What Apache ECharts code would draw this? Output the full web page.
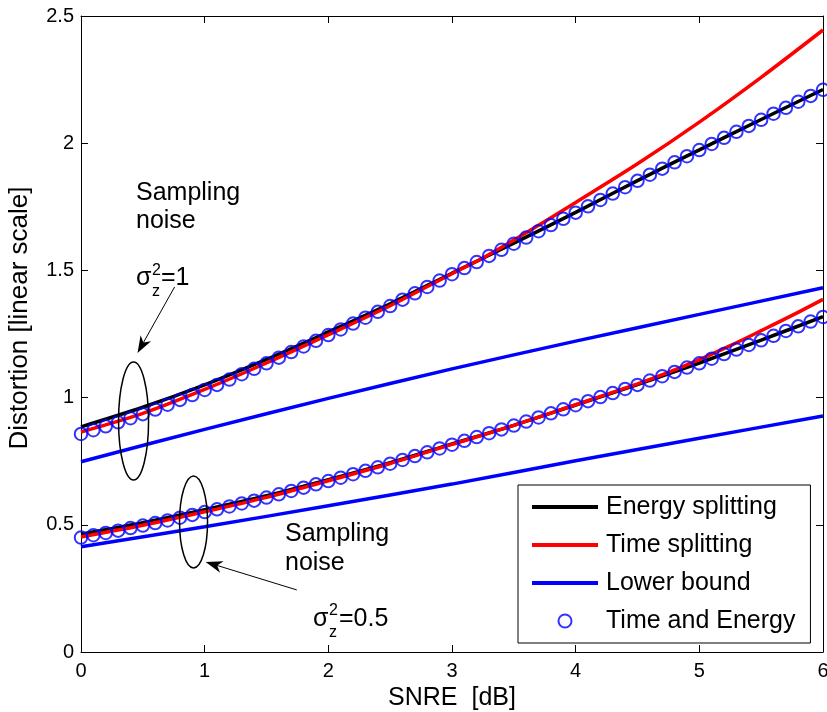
<!DOCTYPE html>
<html><head><meta charset="utf-8">
<script src="https://cdn.jsdelivr.net/npm/echarts@6/dist/echarts.min.js"></script>
<style>html,body{margin:0;padding:0;background:#fff}#c{width:827px;height:712px}</style>
</head><body><div id="c"></div>
<script>
// ---- data ----
const circleX = [0,0.1,0.2,0.3,0.4,0.5,0.6,0.7,0.8,0.9,1,1.1,1.2,1.3,1.4,1.5,1.6,1.7,1.8,1.9,2,2.1,2.2,2.3,2.4,2.5,2.6,2.7,2.8,2.9,3,3.1,3.2,3.3,3.4,3.5,3.6,3.7,3.8,3.9,4,4.1,4.2,4.3,4.4,4.5,4.6,4.7,4.8,4.9,5,5.1,5.2,5.3,5.4,5.5,5.6,5.7,5.8,5.9,6];
const circleUpper = [0.857,0.872,0.887,0.903,0.919,0.935,0.953,0.972,0.991,1.010,1.030,1.050,1.071,1.092,1.113,1.135,1.157,1.179,1.201,1.223,1.246,1.268,1.291,1.314,1.337,1.360,1.385,1.410,1.435,1.460,1.485,1.509,1.533,1.557,1.581,1.605,1.629,1.654,1.678,1.703,1.727,1.752,1.777,1.802,1.827,1.852,1.876,1.900,1.925,1.949,1.973,1.997,2.021,2.045,2.068,2.092,2.116,2.139,2.163,2.186,2.210];
const circleLower = [0.450,0.459,0.468,0.477,0.487,0.497,0.507,0.517,0.528,0.539,0.550,0.561,0.572,0.584,0.595,0.607,0.620,0.633,0.646,0.659,0.672,0.685,0.699,0.712,0.726,0.740,0.755,0.770,0.785,0.800,0.815,0.830,0.845,0.860,0.875,0.890,0.906,0.922,0.938,0.954,0.970,0.986,1.002,1.018,1.034,1.050,1.067,1.084,1.101,1.118,1.135,1.153,1.171,1.189,1.207,1.225,1.243,1.262,1.280,1.299,1.317];

const energyX = [0,0.5,1,1.5,2,2.5,3,3.5,4,4.5,5,5.5,6];
const energyUpper = [0.885,0.962,1.050,1.150,1.258,1.369,1.489,1.607,1.728,1.853,1.974,2.093,2.211];
const energyLower = [0.463,0.508,0.559,0.614,0.677,0.744,0.818,0.891,0.971,1.051,1.136,1.226,1.318];

const timeUpperX = [0,0.5,1,1.5,2,2.5,3,3.25,3.5,3.75,4,4.5,5,5.5,6];
const timeUpper = [0.865,0.938,1.032,1.136,1.247,1.361,1.487,1.549,1.619,1.692,1.767,1.919,2.083,2.259,2.445];
const timeLowerX = [0,0.5,1,1.5,2,2.5,3,3.5,4,4.5,4.75,5,5.25,5.5,5.75,6];
const timeLower = [0.452,0.498,0.551,0.608,0.673,0.741,0.816,0.891,0.972,1.054,1.099,1.149,1.204,1.263,1.323,1.386];

const boundX = [0,1,2,3,4,5,6];
const boundUpper = [0.748,0.875,0.997,1.113,1.222,1.327,1.432];
const boundLower = [0.414,0.492,0.575,0.660,0.752,0.840,0.928];

const legendNames = ['Energy splitting','Time splitting','Lower bound','Time and Energy'];
const xAxisTitle = 'SNRE  [dB]';
const yAxisTitle = 'Distortion [linear scale]';

// ---- annotation anchors (data coordinates) ----
const ellipses = [{c:[0.425,0.908], rx:15, ry:59},{c:[0.91,0.511], rx:14, ry:46}];
const arrows = [{from:[0.757,1.435], to:[0.457,1.175]},{from:[1.745,0.244], to:[1.008,0.354]}];

function pairs(xs, ys){ return xs.map((x,i)=>[x, ys[i]]); }

const FONT = '"Liberation Sans", Arial, Helvetica, sans-serif';
const chart = echarts.init(document.getElementById('c'), null, {renderer:'canvas'});

const lineSeries = (name, color, xs, ys) => ({
  name, type:'line', data: pairs(xs, ys), symbol:'none', smooth:0.3,
  lineStyle:{color, width:3.5}, itemStyle:{color}, animation:false, z:2
});
const circleSeries = (ys) => ({
  name: legendNames[3], type:'scatter', data: pairs(circleX, ys), symbol:'circle', symbolSize:12.5,
  itemStyle:{color:'rgba(0,0,0,0)', borderColor:'#0000ff', borderWidth:2}, animation:false, z:3
});

const axisCommon = {
  axisLine:{show:true, onZero:false, lineStyle:{color:'#000', width:1}},
  axisTick:{show:true, inside:true, length:7, lineStyle:{color:'#000', width:1}},
  splitLine:{show:false}
};

const option = {
  backgroundColor:'#fff',
  animation:false,
  grid:{left:81, right:4, top:16, bottom:60, containLabel:false, outerBoundsMode:'none'},
  xAxis:[
    Object.assign({type:'value', min:0, max:6, interval:1, position:'bottom',
      name:xAxisTitle, nameLocation:'middle', nameGap:34,
      nameTextStyle:{fontFamily:FONT, fontSize:25, color:'#000', verticalAlign:'top'},
      axisLabel:{fontFamily:FONT, fontSize:20, color:'#000', margin:9}}, axisCommon),
    Object.assign({type:'value', min:0, max:6, interval:1, position:'top',
      axisLabel:{show:false}}, axisCommon)
  ],
  yAxis:[
    Object.assign({type:'value', min:0, max:2.5, interval:0.5, position:'left',
      name:yAxisTitle, nameLocation:'middle', nameGap:48, nameRotate:90,
      nameTextStyle:{fontFamily:FONT, fontSize:26, color:'#000', padding:[0,0,0,32]},
      axisLabel:{fontFamily:FONT, fontSize:20, color:'#000', margin:7}}, axisCommon),
    Object.assign({type:'value', min:0, max:2.5, interval:0.5, position:'right',
      axisLabel:{show:false}}, axisCommon)
  ],
  legend:{
    orient:'vertical', left:518, top:485,
    padding:[7,15,7,14], itemGap:8, itemWidth:66, itemHeight:13,
    backgroundColor:'#fff', borderColor:'#000', borderWidth:1, borderRadius:0,
    selectedMode:false,
    textStyle:{fontFamily:FONT, fontSize:25, color:'#000', lineHeight:30, padding:[0,0,0,3]},
    data:[
      {name:legendNames[0], icon:'path://M0,0L66,0L66,4L0,4Z', itemStyle:{color:'#000'}},
      {name:legendNames[1], icon:'path://M0,0L66,0L66,4L0,4Z', itemStyle:{color:'#ff0000'}},
      {name:legendNames[2], icon:'path://M0,0L66,0L66,4L0,4Z', itemStyle:{color:'#0000ff'}},
      {name:legendNames[3], icon:'path://M48,1A5,5 0 1 1 47.99,1Z', itemStyle:{color:'rgba(0,0,0,0)', borderColor:'#0000ff', borderWidth:2}}
    ],
    symbolKeepAspect:true
  },
  series:[
    lineSeries(legendNames[0], '#000000', energyX, energyUpper),
    lineSeries(legendNames[0], '#000000', energyX, energyLower),
    lineSeries(legendNames[1], '#ff0000', timeUpperX, timeUpper),
    lineSeries(legendNames[1], '#ff0000', timeLowerX, timeLower),
    lineSeries(legendNames[2], '#0000ff', boundX, boundUpper),
    lineSeries(legendNames[2], '#0000ff', boundX, boundLower),
    circleSeries(circleUpper),
    circleSeries(circleLower)
  ]
};
chart.setOption(option);

// ---- annotations positioned from data coordinates ----
function P(pt){ return chart.convertToPixel({gridIndex:0}, pt); }
const g = [];
ellipses.forEach(e => {
  const c = P(e.c);
  g.push({type:'ellipse', shape:{cx:c[0], cy:c[1], rx:e.rx, ry:e.ry},
    style:{fill:'none', stroke:'#000', lineWidth:1.5}, z:10});
});
arrows.forEach(a => {
  const f = P(a.from), t = P(a.to);
  const dx = t[0]-f[0], dy = t[1]-f[1], L = Math.hypot(dx,dy);
  const ux = dx/L, uy = dy/L, nx = -uy, ny = ux;
  const hl = 17, hw = 6, notch = 12;
  const bx = t[0]-ux*hl, by = t[1]-uy*hl;
  const mx = t[0]-ux*notch, my = t[1]-uy*notch;
  g.push({type:'line', shape:{x1:f[0], y1:f[1], x2:mx, y2:my}, style:{stroke:'#000', lineWidth:1}, z:10});
  g.push({type:'polygon', shape:{points:[[t[0],t[1]],[bx+nx*hw,by+ny*hw],[mx,my],[bx-nx*hw,by-ny*hw]]},
    style:{fill:'#000'}, z:10});
});
const txt = (text, x, y, size, extra) => Object.assign({type:'text', x, y, z:11,
  style:Object.assign({text, fontFamily:FONT, fontSize:size, fill:'#000', verticalAlign:'middle', align:'left'}, extra||{})});
// upper annotation
g.push(txt('Sampling\nnoise', 136, 179, 25, {verticalAlign:'top', lineHeight:28}));
g.push(txt('σ', 136, 278, 25));
g.push(txt('2', 152, 271, 16));
g.push(txt('z', 152, 292, 16));
g.push(txt('=1', 161, 278, 25));
// lower annotation
g.push(txt('Sampling\nnoise', 285, 520, 25, {verticalAlign:'top', lineHeight:29}));
g.push(txt('σ', 313, 619, 25));
g.push(txt('2', 329, 611, 16));
g.push(txt('z', 329, 633, 16));
g.push(txt('=0.5', 339, 619, 25));
chart.setOption({graphic:{elements:g}});
</script>
</body></html>
